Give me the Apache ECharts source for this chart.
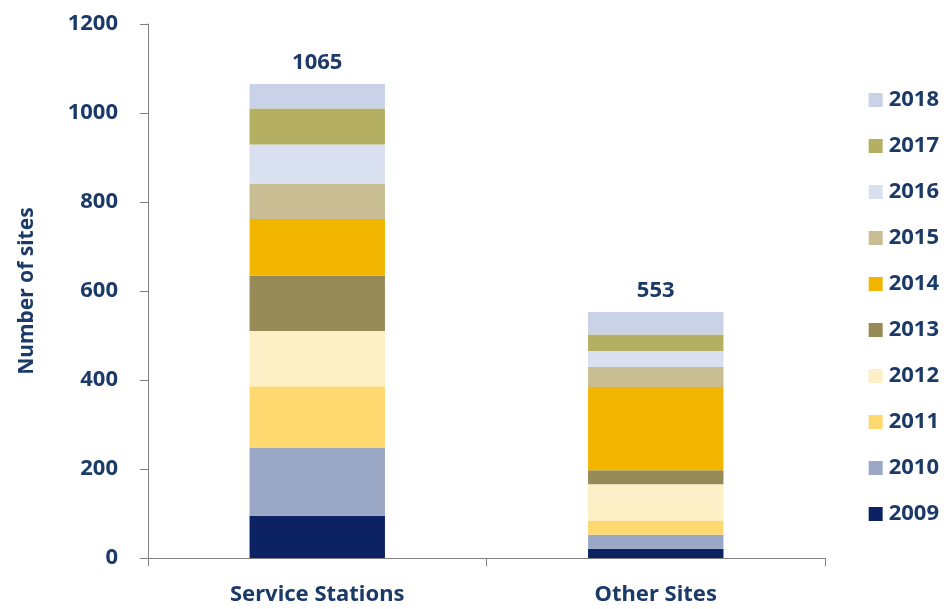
<!DOCTYPE html>
<html>
<head>
<meta charset="utf-8">
<script src="https://cdn.jsdelivr.net/npm/echarts@6/dist/echarts.min.js"></script>
<style>
  html, body { margin: 0; padding: 0; background: #fff; }
  #chart { width: 944px; height: 609px; }
</style>
</head>
<body>
<div id="chart"></div>
<script>
// categories and per-year values
const categories = ['Service Stations', 'Other Sites']
const years = ['2009', '2010', '2011', '2012', '2013', '2014', '2015', '2016', '2017', '2018']
const v2009 = [95, 21]
const v2010 = [153, 31]
const v2011 = [138, 32]
const v2012 = [124, 82]
const v2013 = [124, 31]
const v2014 = [128, 187]
const v2015 = [79, 45]
const v2016 = [88, 36]
const v2017 = [81, 37]
const v2018 = [55, 51]
const totals = [1065, 553]
const yTicks = [0, 200, 400, 600, 800, 1000, 1200]

const values = [v2009, v2010, v2011, v2012, v2013, v2014, v2015, v2016, v2017, v2018]
const colors = ['#0b2263', '#9aa8c6', '#fdd96f', '#fdefc6', '#968b56', '#f2b600',
  '#c9be93', '#d9e0ef', '#b4af63', '#c9d2e6']
const textColor = '#1b3a68'
const font = 'Noto Sans'

// 堆叠系列
const series = years.map((y, i) => ({
  name: y,
  type: 'bar',
  stack: 'total',
  barWidth: '40%',
  itemStyle: { color: colors[i] },
  label: i === years.length - 1 ? {
    show: true,
    position: 'top',
    distance: 10,
    color: textColor,
    fontFamily: font,
    fontWeight: 'bold',
    fontSize: 22,
    formatter: (p) => totals[p.dataIndex]
  } : { show: false },
  data: values[i]
}))

const myChart = echarts.init(document.getElementById('chart'))
myChart.setOption({
  animation: false,
  grid: { left: 148, right: 119, top: 24, bottom: 51 },
  legend: {
    orient: 'vertical',
    right: 0,
    top: 84,
    itemWidth: 14,
    itemHeight: 14,
    itemGap: 24,
    icon: 'rect',
    data: years.slice().reverse(),
    textStyle: { color: textColor, fontFamily: font, fontWeight: 'bold', fontSize: 22, padding: [0, 0, 0, 1] }
  },
  xAxis: {
    type: 'category',
    data: categories,
    axisLine: { lineStyle: { color: '#808080', width: 1 } },
    axisTick: { show: true, length: 8, lineStyle: { color: '#808080' } },
    axisLabel: { color: textColor, fontFamily: font, fontWeight: 'bold', fontSize: 22, margin: 26 }
  },
  yAxis: {
    type: 'value',
    min: yTicks[0],
    max: yTicks[yTicks.length - 1],
    interval: 200,
    name: 'Number of sites',
    nameLocation: 'middle',
    nameGap: 110,
    nameTextStyle: { color: textColor, fontFamily: font, fontWeight: 'bold', fontSize: 21 },
    axisLine: { show: true, lineStyle: { color: '#808080', width: 1 } },
    axisTick: { show: true, length: 8, lineStyle: { color: '#808080' } },
    splitLine: { show: false },
    axisLabel: {
      color: textColor, fontFamily: font, fontWeight: 'bold', fontSize: 22, margin: 30,
      formatter: (v) => String(v)
    }
  },
  series: series
})
</script>
</body>
</html>
